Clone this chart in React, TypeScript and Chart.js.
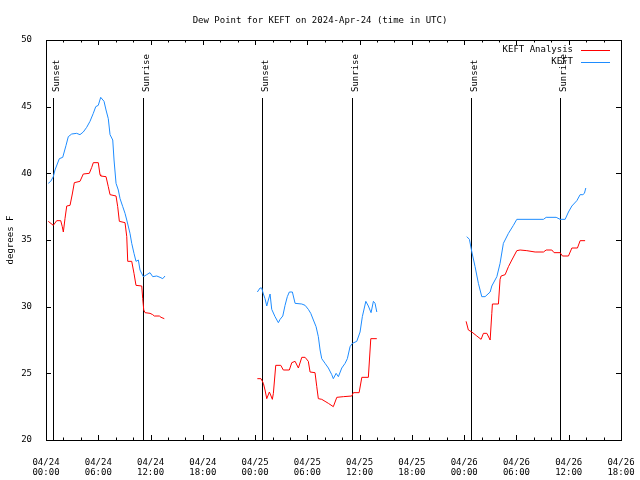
import React, { useEffect, useRef } from "react";
import { Chart, registerables } from "chart.js";
Chart.register(...registerables);

const FONT = "'DejaVu Sans Mono', 'Liberation Mono', monospace";
const TITLE = "Dew Point for KEFT on 2024-Apr-24 (time in UTC)";

// x ticks: hours since 04/24 00:00 UTC
const tickHours = [0, 6, 12, 18, 24, 30, 36, 42, 48, 54, 60, 66];
const tickDates = ["04/24", "04/24", "04/24", "04/24", "04/25", "04/25", "04/25", "04/25", "04/26", "04/26", "04/26", "04/26"];
const tickTimes = ["00:00", "06:00", "12:00", "18:00", "00:00", "06:00", "12:00", "18:00", "00:00", "06:00", "12:00", "18:00"];
const yTicks = [20, 25, 30, 35, 40, 45, 50];

const sunsetHours = [0.8, 24.8, 48.8];
const sunriseHours = [11.15, 35.15, 59.0];

// KEFT observations (null = gap)
const keftHours = [
  0.26, 0.54, 0.84, 1.03, 1.53, 1.92, 2.30, 2.56, 2.95, 3.52, 3.90, 4.28, 4.67, 5.05, 5.43, 5.71, 6.00, 6.28, 6.66, 6.89, 7.15, 7.35, 7.66, 7.81, 8.04, 8.30, 8.50, 8.81, 9.07, 9.27, 9.64, 9.84, 10.10, 10.33, 10.60, 10.79, 11.17, 11.56, 11.94, 12.25, 12.71, 13.09, 13.40, 13.66,
  18,
  24.26, 24.57, 24.76, 24.95, 25.14, 25.34, 25.52, 25.72, 25.91, 26.29, 26.67, 26.87, 27.18, 27.44, 27.70, 27.93, 28.28, 28.59, 29.36, 29.74, 30.11, 30.39, 30.69, 31.00, 31.26, 31.46, 31.65, 32.03, 32.41, 32.80, 32.98, 33.30, 33.56, 33.95, 34.33, 34.59, 34.90, 35.17, 35.67, 36.05, 36.31, 36.71, 37.00, 37.31, 37.58, 37.77, 37.97,
  43,
  48.30, 48.60, 48.88, 49.25, 49.63, 50.02, 50.40, 50.98, 51.17, 51.75, 52.12, 52.50, 53.08, 53.65, 54.04, 57.10, 57.41, 58.56, 59.01, 59.59, 59.97, 60.36, 60.93, 61.31, 61.62, 61.80, 61.96,
];
const keftDew = [
  39.25, 39.4, 39.75, 40.25, 41.1, 41.2, 42.1, 42.75, 42.95, 43.0, 42.9, 43.1, 43.45, 43.9, 44.5, 45.0, 45.1, 45.7, 45.4, 44.75, 44.1, 42.9, 42.5, 41.0, 39.25, 38.75, 38.1, 37.5, 37.0, 36.5, 35.5, 34.75, 34.0, 33.4, 33.5, 32.75, 32.25, 32.4, 32.55, 32.25, 32.3, 32.2, 32.1, 32.3,
  null,
  31.1, 31.4, 31.4, 30.95, 30.6, 30.05, 30.5, 30.95, 29.8, 29.25, 28.8, 29.05, 29.3, 30.1, 30.75, 31.1, 31.1, 30.25, 30.2, 30.1, 29.8, 29.5, 29.0, 28.5, 27.75, 26.75, 26.1, 25.75, 25.4, 24.9, 24.6, 25.0, 24.75, 25.4, 25.75, 26.1, 27.0, 27.25, 27.4, 28.1, 29.25, 30.4, 30.05, 29.55, 30.4, 30.25, 29.6,
  null,
  35.25, 35.05, 34.1, 33.0, 31.75, 30.75, 30.75, 31.1, 31.55, 32.25, 33.25, 34.75, 35.5, 36.1, 36.55, 36.55, 36.7, 36.7, 36.55, 36.55, 37.1, 37.55, 37.95, 38.4, 38.4, 38.5, 38.9,
];

// KEFT Analysis
const analysisHours = [
  0.26, 0.84, 1.23, 1.69, 1.87, 1.99, 2.18, 2.38, 2.76, 3.02, 3.25, 3.90, 4.28, 4.97, 5.25, 5.43, 6.00, 6.20, 6.28, 6.89, 7.15, 7.35, 8.04, 8.23, 8.42, 9.07, 9.27, 9.38, 9.84, 10.10, 10.33, 10.99, 11.10, 11.22, 11.37, 11.94, 12.25, 12.43, 13.01, 13.20, 13.58,
  18,
  24.26, 24.68, 24.95, 25.14, 25.34, 25.64, 25.83, 25.98, 26.10, 26.37, 26.95, 27.24, 27.93, 28.21, 28.59, 28.97, 29.36, 29.74, 30.11, 30.31, 30.88, 31.08, 31.26, 31.65, 32.03, 32.41, 32.98, 33.38, 34.13, 35.10, 35.28, 35.94, 36.25, 37.00, 37.28, 37.97,
  43,
  48.22, 48.48, 48.88, 49.45, 49.94, 50.21, 50.60, 50.98, 51.17, 51.24, 51.93, 52.12, 52.24, 52.70, 53.08, 53.47, 54.04, 54.42, 55.19, 56.14, 57.10, 57.41, 58.06, 58.32, 59.01, 59.28, 59.97, 60.36, 61.00, 61.31, 61.88,
];
const analysisDew = [
  36.4, 36.1, 36.45, 36.45, 36.0, 35.6, 36.6, 37.55, 37.6, 38.45, 39.3, 39.4, 39.95, 40.0, 40.45, 40.8, 40.8, 39.9, 39.8, 39.75, 39.0, 38.4, 38.3, 37.5, 36.4, 36.3, 35.25, 33.4, 33.4, 32.5, 31.6, 31.55, 30.6, 29.75, 29.55, 29.5, 29.4, 29.3, 29.3, 29.2, 29.1,
  null,
  24.6, 24.6, 24.25, 23.75, 23.1, 23.6, 23.3, 23.05, 23.5, 25.6, 25.6, 25.25, 25.25, 25.8, 25.9, 25.4, 26.2, 26.2, 25.9, 25.1, 25.05, 24.0, 23.1, 23.05, 22.9, 22.75, 22.5, 23.2, 23.25, 23.3, 23.55, 23.55, 24.7, 24.7, 27.6, 27.6,
  null,
  28.9, 28.25, 28.1, 27.8, 27.55, 28.0, 28.0, 27.5, 29.5, 30.2, 30.2, 32.05, 32.3, 32.4, 33.0, 33.5, 34.2, 34.25, 34.2, 34.1, 34.1, 34.25, 34.25, 34.05, 34.05, 33.8, 33.8, 34.4, 34.4, 34.95, 34.95,
];

const RED = "#ff0000";
const BLUE = "#1e8cff";

const framePlugin = {
  id: "gnuplotFrame",
  beforeDatasetsDraw(chart: any) {
    const { ctx, chartArea } = chart;
    const xs = chart.scales.x;
    const { top, bottom } = chartArea;
    ctx.save();
    ctx.strokeStyle = "#000";
    ctx.lineWidth = 1;
    ctx.fillStyle = "#000";
    ctx.font = `9px ${FONT}`;
    const drawEvent = (h: number, label: string) => {
      const px = Math.round(xs.getPixelForValue(h)) + 0.5;
      ctx.beginPath();
      ctx.moveTo(px, top + 58);
      ctx.lineTo(px, bottom);
      ctx.stroke();
      ctx.save();
      ctx.translate(px + 5, top + 52);
      ctx.rotate(-Math.PI / 2);
      ctx.textAlign = "left";
      ctx.textBaseline = "alphabetic";
      ctx.fillText(label, 0, 0);
      ctx.restore();
    };
    sunsetHours.forEach((h) => drawEvent(h, "Sunset"));
    sunriseHours.forEach((h) => drawEvent(h, "Sunrise"));
    ctx.restore();
  },
  afterDraw(chart: any) {
    const { ctx, chartArea } = chart;
    const xs = chart.scales.x;
    const ys = chart.scales.y;
    const { left, right, top, bottom } = chartArea;
    ctx.save();
    ctx.strokeStyle = "#000";
    ctx.lineWidth = 1;
    ctx.strokeRect(Math.round(left) + 0.5, Math.round(top) + 0.5, Math.round(right - left), Math.round(bottom - top));
    ctx.beginPath();
    for (let h = 0; h <= 66; h += 2) {
      const px = Math.round(xs.getPixelForValue(h)) + 0.5;
      const len = h % 6 === 0 ? 5 : 2.5;
      ctx.moveTo(px, bottom);
      ctx.lineTo(px, bottom - len);
      ctx.moveTo(px, top);
      ctx.lineTo(px, top + len);
    }
    yTicks.forEach((v) => {
      const py = Math.round(ys.getPixelForValue(v)) + 0.5;
      ctx.moveTo(left, py);
      ctx.lineTo(left + 5, py);
      ctx.moveTo(right, py);
      ctx.lineTo(right - 5, py);
    });
    ctx.stroke();

    // legend (gnuplot style: text then line sample)
    ctx.font = `9px ${FONT}`;
    ctx.fillStyle = "#000";
    ctx.textAlign = "right";
    ctx.textBaseline = "middle";
    const items = [
      { label: "KEFT Analysis", color: RED },
      { label: "KEFT", color: BLUE },
    ];
    items.forEach((it, i) => {
      const y = top + 9.5 + i * 12.5;
      ctx.fillText(it.label, right - 48, y);
      ctx.strokeStyle = it.color;
      ctx.beginPath();
      ctx.moveTo(right - 40, Math.round(y) + 0.5);
      ctx.lineTo(right - 11, Math.round(y) + 0.5);
      ctx.stroke();
    });
    ctx.restore();
  },
};

export default function App() {
  const ref = useRef<HTMLCanvasElement | null>(null);
  useEffect(() => {
    if (!ref.current) return;
    const tickFont = { family: FONT, size: 9, lineHeight: 1.15 };
    const chart = new Chart(ref.current, {
      type: "line",
      data: {
        datasets: [
          {
            label: "KEFT Analysis",
            data: analysisHours.map((h, i) => ({ x: h, y: analysisDew[i] })),
            borderColor: RED,
            borderWidth: 1,
            pointRadius: 0,
            spanGaps: false,
            tension: 0,
          },
          {
            label: "KEFT",
            data: keftHours.map((h, i) => ({ x: h, y: keftDew[i] })),
            borderColor: BLUE,
            borderWidth: 1,
            pointRadius: 0,
            spanGaps: false,
            tension: 0,
          },
        ],
      },
      options: {
        animation: false,
        responsive: false,
        maintainAspectRatio: false,
        events: [],
        layout: { padding: 0 },
        plugins: {
          legend: { display: false },
          tooltip: { enabled: false },
          title: {
            display: true,
            text: TITLE,
            color: "#000",
            font: { family: FONT, size: 9, weight: "normal", lineHeight: 1.2 },
            padding: { top: 15, bottom: 14.2 },
          },
        },
        scales: {
          x: {
            type: "linear",
            min: 0,
            max: 66,
            afterBuildTicks: (s: any) => {
              s.ticks = tickHours.map((v) => ({ value: v }));
            },
            afterFit: (s: any) => {
              s.height = 40;
              s.paddingLeft = 0;
              s.paddingRight = 19;
            },
            ticks: {
              autoSkip: false,
              maxRotation: 0,
              minRotation: 0,
              padding: 9,
              color: "#000",
              font: tickFont,
              callback: (v: any) => {
                const i = tickHours.indexOf(Number(v));
                return i >= 0 ? [tickDates[i], tickTimes[i]] : "";
              },
            },
            grid: { display: false },
            border: { display: false },
          },
          y: {
            min: 20,
            max: 50,
            afterBuildTicks: (s: any) => {
              s.ticks = yTicks.map((v) => ({ value: v }));
            },
            afterFit: (s: any) => {
              s.width = 46;
              s.paddingTop = 0;
              s.paddingBottom = 0;
            },
            ticks: { padding: 6, color: "#000", font: tickFont },
            grid: { display: false },
            border: { display: false },
            title: {
              display: true,
              text: "degrees F",
              color: "#000",
              font: { family: FONT, size: 9, lineHeight: 1.2 },
              padding: { top: 5, bottom: 0 },
            },
          },
        },
      },
      plugins: [framePlugin],
    } as any);
    return () => chart.destroy();
  }, []);
  return (
    <div style={{ position: "absolute", left: 0, top: 0, width: 640, height: 480, background: "#fff" }}>
      <canvas ref={ref} width={640} height={480} style={{ width: 640, height: 480, display: "block" }} />
    </div>
  );
}
